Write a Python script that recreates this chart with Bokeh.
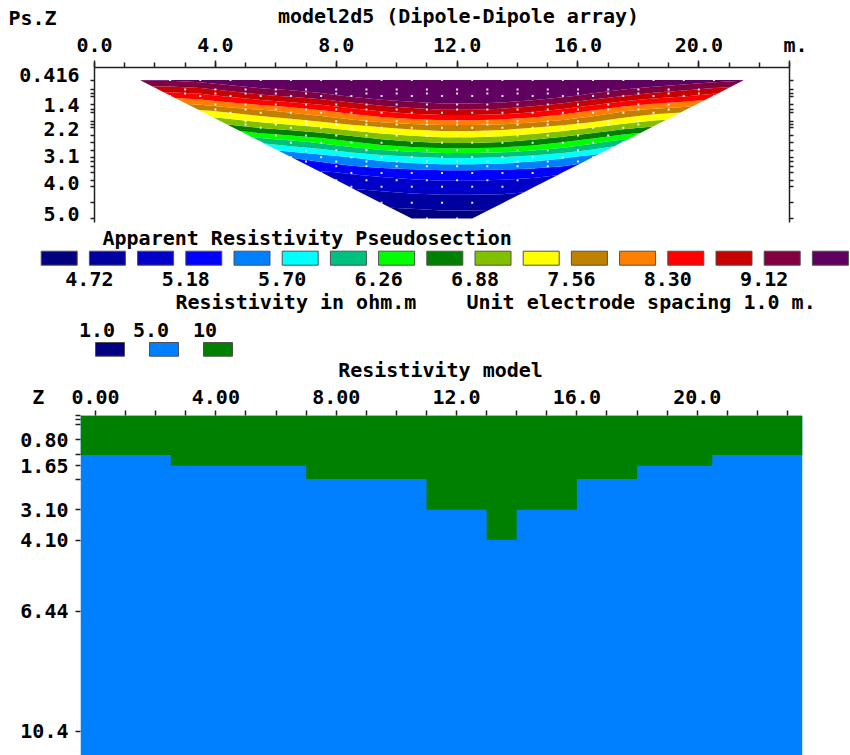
import numpy as np
from bokeh.plotting import figure
from bokeh.models import Range1d, LinearAxis, FixedTicker
from bokeh.embed import file_html
from bokeh.resources import INLINE
from bokeh.core.properties import value

FONT = "DejaVu Sans Mono"
FS = "20px"
INK = "#000000"
AXIS_INK = "#202020"
NBSP = "\u00a0"

# ---------------- data: pseudosection ----------------
PS_TITLE = "model2d5 (Dipole-Dipole array)"
PS_X = [1.5, 2.5, 3.5, 4.5, 5.5, 6.5, 7.5, 8.5, 9.5, 10.5, 11.5,
        12.5, 13.5, 14.5, 15.5, 16.5, 17.5, 18.5, 19.5, 20.5, 21.5]
PS_DEPTH = [0.416, 0.925, 1.434, 1.944, 2.453, 2.962, 3.471, 3.981, 4.490, 5.000]
N = None
PS_ROW_0 = [9.60, 9.60, 9.70, 9.91, 10.11, 10.19, 10.28, 10.38, 10.48, 10.55, 10.60,
            10.60, 10.57, 10.50, 10.40, 10.29, 10.16, 10.01, 9.87, 9.70, 9.60]
PS_ROW_1 = [N, 8.46, 8.58, 8.82, 9.06, 9.23, 9.41, 9.64, 9.85, 10.00, 10.10,
            10.10, 10.04, 9.89, 9.68, 9.43, 9.16, 8.94, 8.77, 8.58, N]
PS_ROW_2 = [N, N, 7.50, 7.67, 7.84, 8.03, 8.25, 8.51, 8.75, 8.92, 9.04,
            9.04, 8.97, 8.80, 8.56, 8.27, 7.96, 7.75, 7.64, N, N]
PS_ROW_3 = [N, N, N, 6.80, 6.99, 7.12, 7.27, 7.45, 7.62, 7.74, 7.82,
            7.82, 7.77, 7.65, 7.49, 7.29, 7.07, 6.89, N, N, N]
PS_ROW_4 = [N, N, N, N, 6.04, 6.19, 6.35, 6.56, 6.75, 6.88, 6.97,
            6.97, 6.91, 6.78, 6.60, 6.37, 6.13, N, N, N, N]
PS_ROW_5 = [N, N, N, N, N, 5.45, 5.57, 5.72, 5.86, 5.95, 6.02,
            6.02, 5.98, 5.88, 5.75, 5.59, N, N, N, N, N]
PS_ROW_6 = [N, N, N, N, N, N, 5.15, 5.21, 5.26, 5.30, 5.33,
            5.33, 5.31, 5.28, 5.22, N, N, N, N, N, N]
PS_ROW_7 = [N, N, N, N, N, N, N, 4.95, 4.99, 5.03, 5.05,
            5.05, 5.04, 5.00, N, N, N, N, N, N, N]
PS_ROW_8 = [N, N, N, N, N, N, N, N, 4.77, 4.79, 4.81,
            4.81, 4.80, N, N, N, N, N, N, N, N]
PS_ROW_9 = [N, N, N, N, N, N, N, N, N, 4.60, 4.62,
            4.62, N, N, N, N, N, N, N, N, N]
PS_ROWS = [PS_ROW_0, PS_ROW_1, PS_ROW_2, PS_ROW_3, PS_ROW_4,
           PS_ROW_5, PS_ROW_6, PS_ROW_7, PS_ROW_8, PS_ROW_9]

PS_VMIN, PS_VMAX = 4.0, 12.0
PS_LEVELS = [4.72, 4.94, 5.18, 5.43, 5.70, 5.97, 6.26, 6.56,
             6.88, 7.21, 7.56, 7.92, 8.30, 8.70, 9.12, 9.55]
PS_COLORS = ["#000080", "#0000A0", "#0000C8", "#0000FF", "#0080FF", "#00FFFF",
             "#00C080", "#00FF00", "#008000", "#80C000", "#FFFF00", "#C08000",
             "#FF8000", "#FF0000", "#C80000", "#800040", "#600060"]
PS_LEVEL_LABELS = ["4.72", "5.18", "5.70", "6.26", "6.88", "7.56", "8.30", "9.12"]

# measurement levels (pseudodepth) and first/last datum position on each level
DATA_LEVEL_DEPTH = [0.417, 0.729, 0.861, 0.947, 1.225, 1.391, 1.50, 1.775, 1.888, 1.997,
                    2.25, 2.49, 2.74, 2.97, 3.11, 3.27, 3.49, 3.73, 3.95, 4.48, 5.0]
DATA_LEVEL_FIRST = [1.5, 2.0, 3.0, 2.5, 3.0, 4.0, 3.5, 4.0, 5.0, 4.5,
                    5.0, 5.5, 6.0, 6.5, 7.0, 7.0, 7.5, 8.0, 8.5, 9.5, 11.0]
DATA_LEVEL_LAST = [21.5, 21.0, 20.0, 20.5, 20.0, 19.0, 19.5, 19.0, 18.0, 18.5,
                   18.0, 17.5, 17.0, 16.5, 16.0, 15.5, 15.0, 14.5, 14.0, 13.0, 12.0]
ELECTRODE_SPACING = 1.0

PS_Z_TICKS = [0.416, 1.4, 2.2, 3.1, 4.0, 5.0]
PS_Z_LABELS = ["0.416", "1.4", "2.2", "3.1", "4.0", "5.0"]
X_TICKS = [0, 4, 8, 12, 16, 20]
PS_X_LABELS = ["0.0", "4.0", "8.0", "12.0", "16.0", "20.0"]
X_UNIT = "m."
ELECTRODES = [float(e) for e in range(24)]

# ---------------- data: model ----------------
MODEL_TITLE = "Resistivity model"
MODEL_X_EDGES = [-0.5, 2.5, 7.0, 11.0, 13.0, 14.0, 16.0, 18.0, 20.5, 23.5]
MODEL_INTERFACE = [1.30, 1.65, 2.09, 3.10, 4.10, 3.10, 2.09, 1.65, 1.30]
MODEL_BASE = 12.0
MODEL_RES_TOP = 10.0
MODEL_RES_BOTTOM = 5.0
MODEL_LEGEND_VALUES = [1.0, 5.0, 10.0]
MODEL_LEGEND_LABELS = ["1.0", "5.0", "10"]
MODEL_LEGEND_COLORS = ["#000080", "#0080FF", "#008000"]
MODEL_Z_TICKS = [0.80, 1.65, 3.10, 4.10, 6.44, 10.4]
MODEL_Z_LABELS = ["0.80", "1.65", "3.10", "4.10", "6.44", "10.4"]
MODEL_Z_MINOR = [0.0, 0.14, 0.28, 1.30, 2.09]
MODEL_X_LABELS = ["0.00", "4.00", "8.00", "12.0", "16.0", "20.0"]


def style_axis(ax, tick_major, tick_minor, standoff):
    ax.major_label_text_font = FONT
    ax.major_label_text_font_size = FS
    ax.major_label_text_font_style = "bold"
    ax.major_label_text_color = INK
    ax.major_tick_in = 0
    ax.minor_tick_in = 0
    ax.major_tick_out = tick_major
    ax.minor_tick_out = tick_minor
    ax.major_label_standoff = standoff
    ax.axis_line_color = AXIS_INK
    ax.axis_line_width = 1.5
    ax.major_tick_line_color = AXIS_INK
    ax.minor_tick_line_color = AXIS_INK
    ax.major_tick_line_width = 1.5
    ax.minor_tick_line_width = 1.5


def strip(height, y0, y1):
    p = figure(width=850, height=height, x_range=Range1d(0, 850), y_range=Range1d(y1, y0),
               x_axis_location=None, y_axis_location=None, output_backend="svg",
               toolbar_location=None, min_border=0)
    p.grid.grid_line_color = None
    p.outline_line_color = None
    return p


txt = dict(text_font=value(FONT), text_font_size=FS, text_font_style="bold", text_color=INK,
           text_baseline="middle")

# ================= header strip (page rows 0..29) =================
ph = strip(29, 0, 29)
ph.text(x=[8], y=[17], text=["Ps.Z"], text_align="left", **txt)
ph.text(x=[458], y=[15], text=[PS_TITLE], text_align="center", **txt)

# ================= pseudosection figure (page rows 29..225) =================
PA_FRAME_H = 155
PA_Z_MAX = 5.13
pa = figure(width=850, height=196, x_range=Range1d(0, 23), y_range=Range1d(PA_Z_MAX, 0),
            x_axis_location="above", output_backend="svg", toolbar_location=None,
            min_border_left=94, min_border_right=61, min_border_top=38, min_border_bottom=3)
pa.grid.grid_line_color = None
pa.outline_line_color = None

Z = np.array([[np.nan if v is None else v for v in row] for row in PS_ROWS], dtype=float)
pa.contour(x=np.array(PS_X), y=np.array(PS_DEPTH), z=Z,
           levels=[PS_VMIN] + PS_LEVELS + [PS_VMAX],
           fill_color=PS_COLORS, line_color=None)

dot_x, dot_y = [], []
for d, x0, x1 in zip(DATA_LEVEL_DEPTH, DATA_LEVEL_FIRST, DATA_LEVEL_LAST):
    xs = np.arange(x0, x1 + 1e-6, ELECTRODE_SPACING)
    dot_x.extend(xs.tolist())
    dot_y.extend([d] * len(xs))
pa.scatter(dot_x, dot_y, marker="square", size=2, fill_color="white", line_color=None,
           fill_alpha=0.9)

top = pa.xaxis[0]
top_ticks = X_TICKS + [ELECTRODES[-1]]
top.ticker = FixedTicker(ticks=top_ticks, minor_ticks=ELECTRODES)
top.major_label_overrides = dict(zip(top_ticks, PS_X_LABELS + [NBSP + X_UNIT]))
style_axis(top, 7, 5, 4)

# depth labels sit a few pixels above their level (as in the original print-out);
# the tick marks themselves are the measurement levels (minor ticks)
lab_shift = 5 * PA_Z_MAX / PA_FRAME_H
left = pa.yaxis[0]
z_lab_pos = [v - lab_shift for v in PS_Z_TICKS]
left.ticker = FixedTicker(ticks=z_lab_pos, minor_ticks=DATA_LEVEL_DEPTH)
left.major_label_overrides = dict(zip(z_lab_pos, PS_Z_LABELS))
style_axis(left, 0, 4, 11)

right = LinearAxis(ticker=FixedTicker(ticks=[], minor_ticks=DATA_LEVEL_DEPTH))
style_axis(right, 0, 4, 4)
right.major_label_text_font_size = "0px"
pa.add_layout(right, "right")

# ================= legend strip (page rows 225..381) =================
pl = strip(156, 225, 381)
n = len(PS_COLORS)
box_l = [40.7 + 48.2 * i for i in range(n)]
pl.quad(left=box_l, right=[b + 36 for b in box_l], top=[250.7] * n, bottom=[264.7] * n,
        fill_color=PS_COLORS, line_color="#505050", line_width=1)
lab_x = [box_l[2 * i + 1] for i in range(len(PS_LEVEL_LABELS))]
pl.text(x=lab_x, y=[278] * len(lab_x), text=PS_LEVEL_LABELS, text_align="center", **txt)
pl.text(x=[102], y=[237], text=["Apparent Resistivity Pseudosection"], text_align="left", **txt)
pl.text(x=[175, 466], y=[301, 301],
        text=["Resistivity in ohm.m", "Unit electrode spacing 1.0 m."], text_align="left", **txt)

m = len(MODEL_LEGEND_COLORS)
mbox_l = [95 + 54 * i for i in range(m)]
pl.quad(left=mbox_l, right=[b + 29 for b in mbox_l], top=[342] * m, bottom=[355.7] * m,
        fill_color=MODEL_LEGEND_COLORS, line_color="#505050", line_width=1)
pl.text(x=[b + 1.5 for b in mbox_l], y=[329] * m, text=MODEL_LEGEND_LABELS,
        text_align="center", **txt)
pl.text(x=[440], y=[369], text=[MODEL_TITLE], text_align="center", **txt)

# ================= model figure (page rows 381..755) =================
pb = figure(width=850, height=374, x_range=Range1d(-0.5, 23.5), y_range=Range1d(11.19, 0),
            x_axis_location="above", output_backend="svg", toolbar_location=None,
            min_border_left=80, min_border_right=48, min_border_top=34, min_border_bottom=0)
pb.grid.grid_line_color = None
pb.outline_line_color = None


def res_color(r):
    i = int(np.argmin([abs(np.log(r) - np.log(v)) for v in MODEL_LEGEND_VALUES]))
    return MODEL_LEGEND_COLORS[i]


c_top, c_bot = res_color(MODEL_RES_TOP), res_color(MODEL_RES_BOTTOM)
# lower layer (5 ohm.m) spans the whole model section
pb.quad(left=[MODEL_X_EDGES[0]], right=[MODEL_X_EDGES[-1]], top=[0.0], bottom=[MODEL_BASE],
        fill_color=c_bot, line_color=None)
# upper layer (10 ohm.m): stepped outline built from the block edges and interface depths
px, py = [MODEL_X_EDGES[0]], [0.0]
for i, zi in enumerate(MODEL_INTERFACE):
    px += [MODEL_X_EDGES[i], MODEL_X_EDGES[i + 1]]
    py += [zi, zi]
px += [MODEL_X_EDGES[-1]]
py += [0.0]
pb.patch(px, py, fill_color=c_top, line_color=None)

btop = pb.xaxis[0]
# the depth-axis name "Z" sits on the row of the distance labels, at the section's left edge
b_ticks = [MODEL_X_EDGES[0]] + X_TICKS
btop.ticker = FixedTicker(ticks=b_ticks, minor_ticks=ELECTRODES)
btop.major_label_overrides = dict(zip(b_ticks, ["Z" + NBSP * 7] + MODEL_X_LABELS))
style_axis(btop, 0, 5, 2)
btop.axis_line_color = None

bleft = pb.yaxis[0]
bleft.ticker = FixedTicker(ticks=MODEL_Z_TICKS, minor_ticks=MODEL_Z_MINOR)
bleft.major_label_overrides = dict(zip(MODEL_Z_TICKS, MODEL_Z_LABELS))
style_axis(bleft, 5, 5, 7)
bleft.axis_line_color = None

open("out.html", "w").write(file_html([ph, pa, pl, pb], INLINE))
